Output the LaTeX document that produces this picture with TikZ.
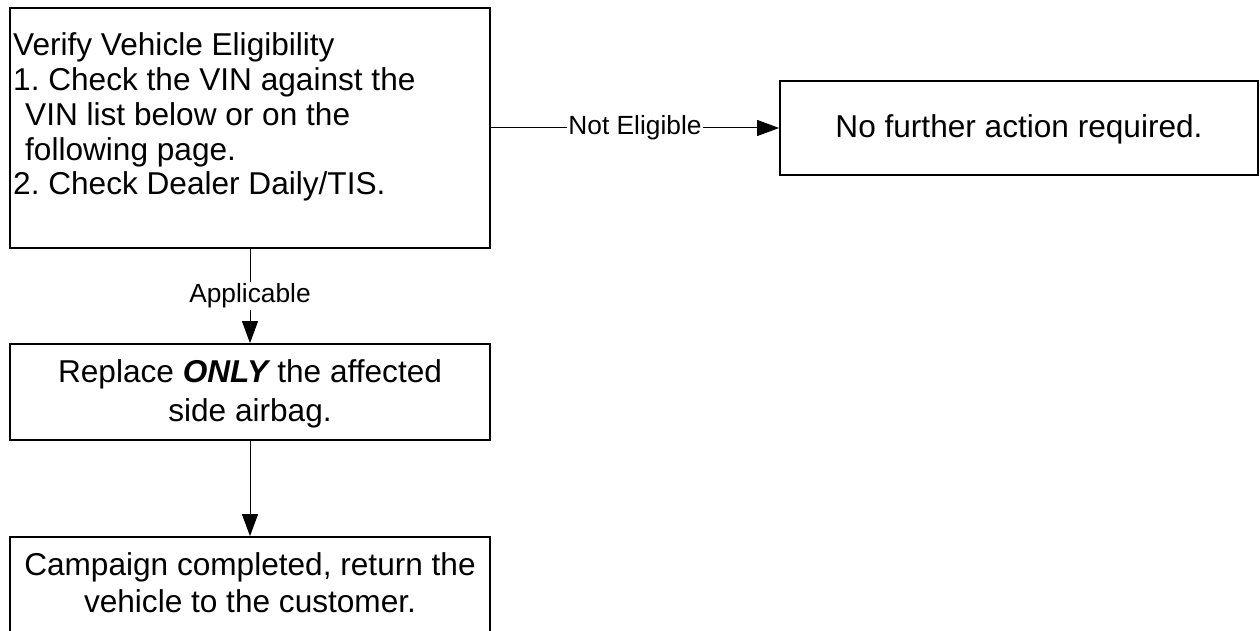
\documentclass[tikz,border=0pt]{standalone}
\usepackage{fontspec}
\setmainfont{Liberation Sans}
\usetikzlibrary{arrows.meta}
\frenchspacing
\begin{document}
\begin{tikzpicture}[x=1pt,y=-1pt,
  boxnode/.style={draw=black, line width=1.8pt, rectangle, inner sep=0pt},
  txt/.style={inner sep=0pt, font=\fontsize{31.6}{34.8}\selectfont},
  lbl/.style={fill=white, inner sep=1.5pt, font=\fontsize{26.3}{30}\selectfont},
  conn/.style={draw=black, line width=1pt, -{Triangle[length=22pt,width=16pt]}}]
\clip (0,0) rectangle (1260,631);
\fill[white] (0,0) rectangle (1260,631);
% boxes
\node[boxnode, minimum width=480pt, minimum height=240pt] (b1) at (250,128) {};
\node[boxnode, minimum width=478pt, minimum height=94pt] (b4) at (1019,128) {};
\node[boxnode, minimum width=480pt, minimum height=96pt] (b2) at (250,392) {};
\node[boxnode, minimum width=480pt, minimum height=140pt] (b3) at (250,607) {};
% texts (base anchor = baseline of the last line)
\node[txt, anchor=base west, align=left] (t1) at (13,195)
  {Verify Vehicle Eligibility\\
   1. Check the VIN against the\\
   \hspace*{12pt}VIN list below or on the\\
   \hspace*{12pt}following page.\\
   2. Check Dealer Daily/TIS.};
\node[txt, anchor=base] (t4) at (1019,138) {No further action required.};
\node[txt, anchor=base, align=center, font=\fontsize{31.6}{39}\selectfont] (t2) at (250,421)
  {Replace \textbf{\textit{ONLY}}\kern-2pt{} the affected\\side airbag.};
\node[txt, anchor=base, align=center, font=\fontsize{31.6}{37}\selectfont] (t3) at (250,612)
  {Campaign completed, return the\\vehicle to the customer.};
% connectors
\draw[conn] (b1.east |- b4.west) -- node[lbl] {Not Eligible} (b4.west);
\draw[conn] (b1.south) -- node[lbl] {Applicable} (b2.north);
\draw[conn] (b2.south) -- (b3.north);
\end{tikzpicture}
\end{document}
